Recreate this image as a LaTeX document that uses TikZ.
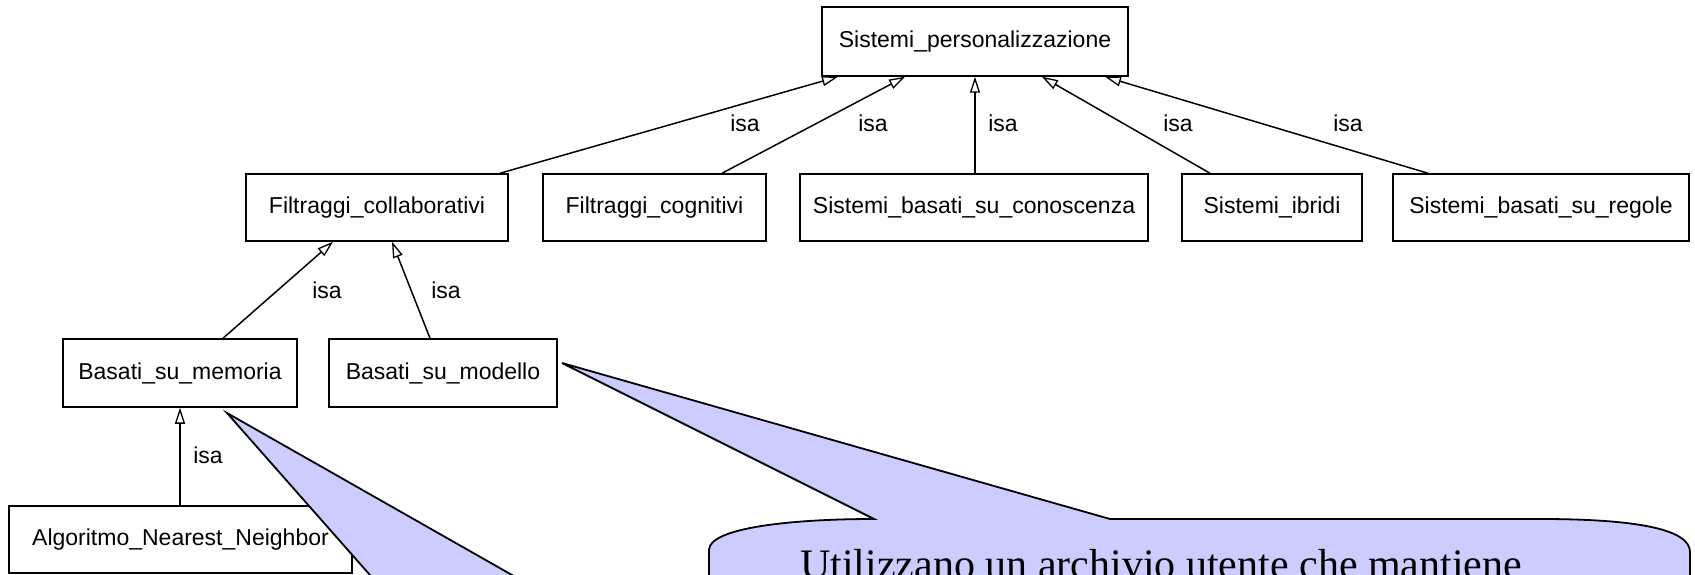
\documentclass[tikz,border=0pt]{standalone}
\usepackage{fontspec}
\newfontfamily\boxfont{Liberation Sans}
\newfontfamily\callfont{Liberation Serif}
\usetikzlibrary{arrows.meta,calc}
\definecolor{calloutfill}{HTML}{CCCCFF}
\tikzset{
  cls/.style={draw=black, line width=1.5pt, fill=white, inner sep=0pt,
    minimum height=67pt, font=\boxfont\fontsize{23}{27}\selectfont, text=black},
  isalink/.style={draw=black, line width=1.5pt,
    -{Triangle[open,length=16pt,width=10pt,line width=1.3pt]}},
  isalabel/.style={inner sep=0pt, font=\boxfont\fontsize{23}{27}\selectfont},
  bubble/.style={fill=calloutfill, draw=black, line width=1.8pt, line join=miter},
}
\begin{document}
\begin{tikzpicture}[x=1pt,y=-1pt]
\useasboundingbox (0,0) rectangle (1695,575);
\clip (0,0) rectangle (1695,575);
\fill[white] (0,0) rectangle (1695,575);

% classes
\node[cls, minimum width=306pt, minimum height=69pt] (sp) at (975,41.5) {Sistemi\_personalizzazione};
\node[cls, minimum width=262pt] (fcoll) at (377,207.5) {Filtraggi\_collaborativi};
\node[cls, minimum width=223pt] (fcog) at (654.5,207.5) {Filtraggi\_cognitivi};
\node[cls, minimum width=348pt] (sbc) at (974,207.5) {Sistemi\_basati\_su\_conoscenza};
\node[cls, minimum width=180pt] (si) at (1272,207.5) {Sistemi\_ibridi};
\node[cls, minimum width=296pt] (sbr) at (1541,207.5) {Sistemi\_basati\_su\_regole};
\node[cls, minimum width=234pt, minimum height=68pt] (bm) at (180,373) {Basati\_su\_memoria};
\node[cls, minimum width=228pt, minimum height=68pt] (bmod) at (443,373) {Basati\_su\_modello};
\node[cls, minimum width=343pt] (ann) at (180.5,539.5) {Algoritmo\_Nearest\_Neighbor};

% isa links
\draw[isalink] ([xshift=123pt]fcoll.north) -- ([xshift=-137pt]sp.south);
\draw[isalink] ([xshift=67.5pt]fcog.north) -- ([xshift=-70pt]sp.south);
\draw[isalink] ([xshift=1pt]sbc.north) -- (sp.south);
\draw[isalink] ([xshift=-62pt]si.north) -- ([xshift=67pt]sp.south);
\draw[isalink] ([xshift=-113pt]sbr.north) -- ([xshift=130pt]sp.south);
\draw[isalink] ([xshift=43pt]bm.north) -- ([xshift=-44pt]fcoll.south);
\draw[isalink] ([xshift=-13pt]bmod.north) -- ([xshift=15pt]fcoll.south);
\draw[isalink] (ann.north -| bm.south) -- (bm.south);

% labels
\node[isalabel] (l1) at (745,123) {isa};
\node[isalabel] (l2) at (873,123) {isa};
\node[isalabel] (l3) at (1003,123) {isa};
\node[isalabel] (l4) at (1178,123) {isa};
\node[isalabel] (l5) at (1348,123) {isa};
\node[isalabel] (l6) at (327,290) {isa};
\node[isalabel] (l7) at (446,290) {isa};
\node[isalabel] (l8) at (208,455) {isa};

% callout from Basati_su_memoria
\draw[bubble] (227,413) -- (556,600) -- (392,600) -- cycle;

% callout from Basati_su_modello
\draw[bubble] (562,363) -- (1110,519) -- (1540,519)
  .. controls (1640,519) and (1690,530) .. (1690,552) -- (1690,600) -- (709,600)
  -- (709,550) .. controls (709,528) and (790,519) .. (874,519) -- cycle;
\node[anchor=base west, inner sep=0pt, font=\callfont\fontsize{42}{46}\selectfont] (ctext) at (800,578)
  {Utilizzano un archivio utente che mantiene};
\end{tikzpicture}
\end{document}
